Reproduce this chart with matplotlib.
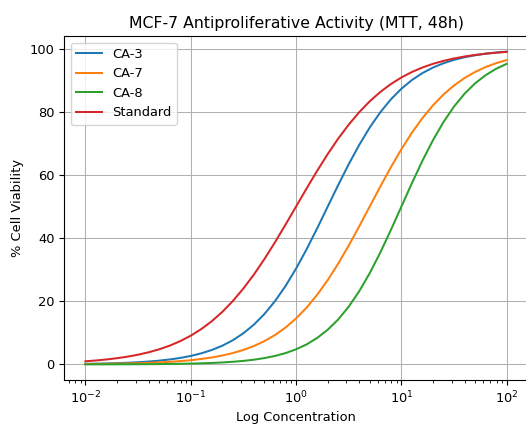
import matplotlib
matplotlib.use("Agg")
import matplotlib.pyplot as plt

# Concentrations (log-spaced)
concentration = [0.01, 0.01259, 0.01585, 0.01995, 0.02512, 0.03162, 0.03981, 0.05012, 0.0631, 0.07943,
                 0.1, 0.1259, 0.1585, 0.1995, 0.2512, 0.3162, 0.3981, 0.5012, 0.631, 0.7943,
                 1.0, 1.259, 1.585, 1.995, 2.512, 3.162, 3.981, 5.012, 6.31, 7.943,
                 10.0, 12.59, 15.85, 19.95, 25.12, 31.62, 39.81, 50.12, 63.1, 79.43, 100.0]

ca3 = [0.17, 0.23, 0.30, 0.40, 0.52, 0.69, 0.90, 1.19, 1.56, 2.04,
       2.67, 3.50, 4.56, 5.92, 7.66, 9.86, 12.60, 15.97, 20.04, 24.83,
       30.34, 36.47, 43.08, 49.95, 56.81, 63.42, 69.56, 75.08, 79.89, 83.96,
       87.34, 90.10, 92.30, 94.05, 95.42, 96.49, 97.31, 97.95, 98.44, 98.81, 99.09]
ca7 = [0.11, 0.14, 0.18, 0.23, 0.30, 0.38, 0.49, 0.63, 0.81, 1.04,
       1.33, 1.71, 2.19, 2.81, 3.59, 4.58, 5.82, 7.38, 9.30, 11.67,
       14.55, 17.99, 22.03, 26.68, 31.92, 37.65, 43.76, 50.06, 56.36, 62.45,
       68.18, 73.41, 78.05, 82.08, 85.52, 88.38, 90.74, 92.65, 94.21, 95.44, 96.42]
ca8 = [0.01, 0.02, 0.02, 0.03, 0.04, 0.06, 0.08, 0.10, 0.14, 0.19,
       0.25, 0.34, 0.46, 0.61, 0.83, 1.11, 1.49, 2.00, 2.68, 3.58,
       4.77, 6.33, 8.36, 10.96, 14.23, 18.29, 23.19, 28.95, 35.46, 42.57,
       50.00, 57.43, 64.54, 71.05, 76.80, 81.71, 85.77, 89.05, 91.64, 93.67, 95.23]
standard = [0.99, 1.24, 1.56, 1.96, 2.45, 3.07, 3.83, 4.77, 5.93, 7.36,
            9.09, 11.18, 13.68, 16.63, 20.08, 24.03, 28.47, 33.39, 38.69, 44.27,
            50.00, 55.73, 61.31, 66.61, 71.53, 75.97, 79.92, 83.37, 86.32, 88.82,
            90.91, 92.64, 94.07, 95.23, 96.17, 96.93, 97.55, 98.04, 98.44, 98.76, 99.01]

series = [("CA-3", ca3, "#1f77b4"), ("CA-7", ca7, "#ff7f0e"),
          ("CA-8", ca8, "#2ca02c"), ("Standard", standard, "#d62728")]

plt.rcParams["font.size"] = 9.4
fig = plt.figure(figsize=(5.26, 4.26), dpi=100)
ax = fig.add_axes([64.3 / 526, (426 - 380) / 426, (527.8 - 64.3) / 526, (380 - 36) / 426])
for name, vals, color in series:
    ax.plot(concentration, vals, label=name, color=color, linewidth=1.45)
ax.set_xscale("log")
ax.set_title("MCF-7 Antiproliferative Activity (MTT, 48h)", fontsize=11.3, pad=5.5)
ax.set_xlabel("Log Concentration", labelpad=3.5)
ax.set_ylabel("% Cell Viability")
ax.grid(True, linewidth=0.75)
ax.tick_params(labelsize=9.4)
ax.legend(loc="upper left", fontsize=9.4)
fig.savefig("out.png", dpi=100)
